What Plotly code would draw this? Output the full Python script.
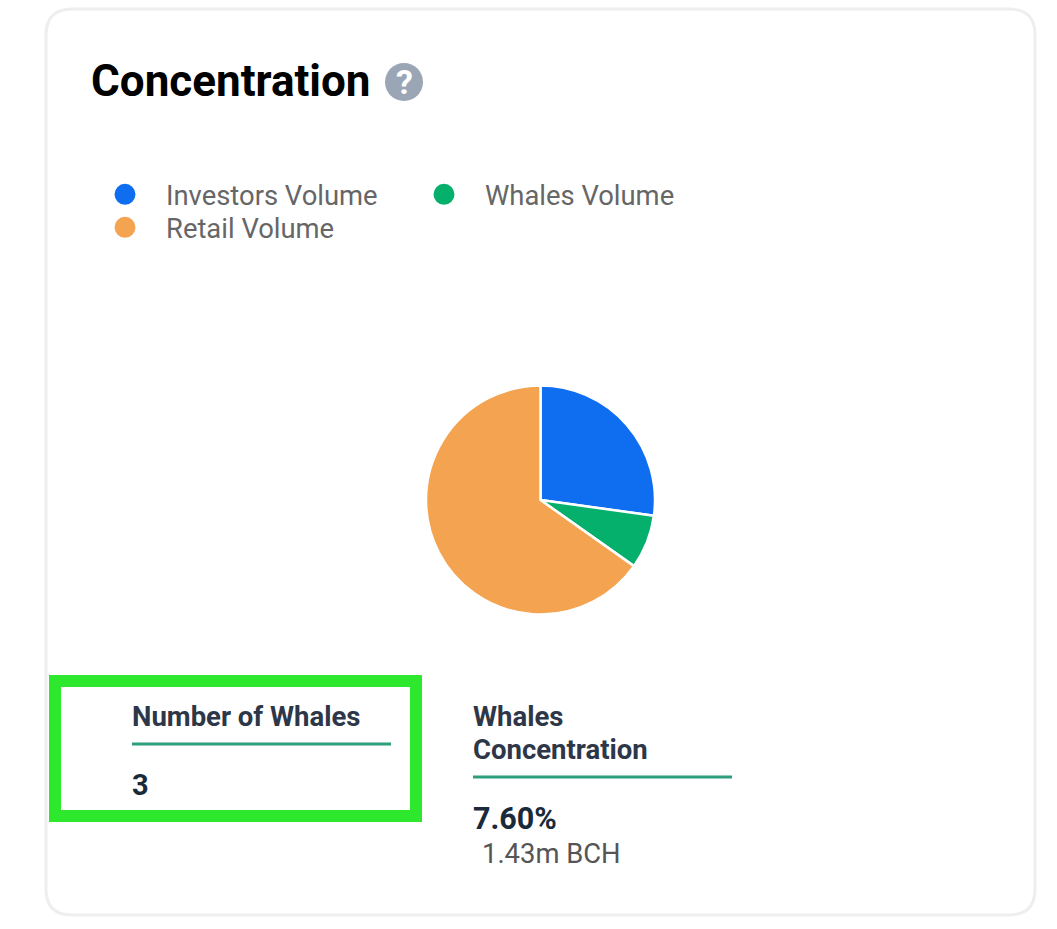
import plotly.graph_objects as go

W = 1057
H = 929

names = ["Investors Volume", "Whales Volume", "Retail Volume"]
values = [27.2, 7.6, 65.2]
colors = ["#0F6EF0", "#04B06C", "#F4A350"]
legends = ["legend", "legend", "legend2"]


def px(x):
    return x / W


def py(y):
    return 1 - y / H


def text(x, y, s, size, color, bold=False):
    fig.add_annotation(x=px(x - 2), y=py(y), xref="paper", yref="paper", text=f"<b>{s}</b>" if bold else s,
                       showarrow=False, xanchor="left", yanchor="middle",
                       font=dict(family="Roboto", size=size, color=color))


fig = go.Figure()

fig.add_trace(go.Pie(labels=names, values=values, sort=False, direction="clockwise", rotation=0,
                     marker=dict(colors=colors, line=dict(color="white", width=2.5)),
                     textinfo="none", showlegend=False, hoverinfo="label+percent",
                     domain=dict(x=[px(426), px(655)], y=[py(615), py(385)])))

# round legend markers come from empty scatter traces
for n, c, lg in zip(names, colors, legends):
    fig.add_trace(go.Scatter(x=[None], y=[None], mode="markers", name=n, legend=lg,
                             marker=dict(color=c, size=16, symbol="circle", line=dict(color=c, width=5))))

legend_style = dict(orientation="h", xanchor="left", yanchor="top", itemwidth=72, entrywidth=232, itemclick=False,
                    font=dict(family="Roboto", size=27.4, color="#666666"), bgcolor="rgba(0,0,0,0)")

fig.update_layout(
    width=W, height=H,
    margin=dict(l=0, r=0, t=0, b=0, autoexpand=False),
    paper_bgcolor="white", plot_bgcolor="white",
    xaxis=dict(visible=False), yaxis=dict(visible=False),
    legend=dict(x=px(84), y=py(170), **legend_style),
    legend2=dict(x=px(84), y=py(203), **legend_style),
)

# card outline
x0, x1, y0, y1, r = px(46), px(1035), py(9), py(915), 26
path = (f"M {px(46 + r)} {y0} L {px(1035 - r)} {y0} Q {x1} {y0} {x1} {py(9 + r)} "
        f"L {x1} {py(915 - r)} Q {x1} {y1} {px(1035 - r)} {y1} L {px(46 + r)} {y1} "
        f"Q {x0} {y1} {x0} {py(915 - r)} L {x0} {py(9 + r)} Q {x0} {y0} {px(46 + r)} {y0} Z")
fig.add_shape(type="path", path=path, xref="paper", yref="paper", line=dict(color="#EEEEEE", width=3), layer="below")

# green highlight box
fig.add_shape(type="rect", xref="paper", yref="paper", x0=px(55), x1=px(416), y0=py(681), y1=py(816),
              line=dict(color="#2DE82D", width=12))

# help icon
fig.add_shape(type="circle", xref="paper", yref="paper", x0=px(385), x1=px(423), y0=py(63), y1=py(101),
              fillcolor="#9AA5B5", line=dict(width=0))
fig.add_annotation(x=px(404), y=py(82), xref="paper", yref="paper", text="<b>?</b>", showarrow=False,
                   xanchor="center", yanchor="middle", font=dict(family="Roboto", size=34, color="white"))

# stat underlines
for lx0, lx1, ly in [(132, 391, 744), (473, 732, 777)]:
    fig.add_shape(type="line", xref="paper", yref="paper", x0=px(lx0), x1=px(lx1), y0=py(ly), y1=py(ly),
                  line=dict(color="#2F9E7E", width=3))

text(91, 81, "Concentration", 44, "#000000", True)
text(132, 716, "Number of Whales", 27.5, "#2D3748", True)
text(132, 785, "3", 29, "#1A2A3A", True)
text(473, 716, "Whales", 27.5, "#2D3748", True)
text(473, 749, "Concentration", 27.5, "#2D3748", True)
text(473, 818, "7.60%", 30.5, "#1A2A3A", True)
text(482, 854, "1.43m BCH", 27.4, "#555555")

fig.write_html("out.html", config=dict(displayModeBar=False), post_script="document.body.style.margin='0';")
